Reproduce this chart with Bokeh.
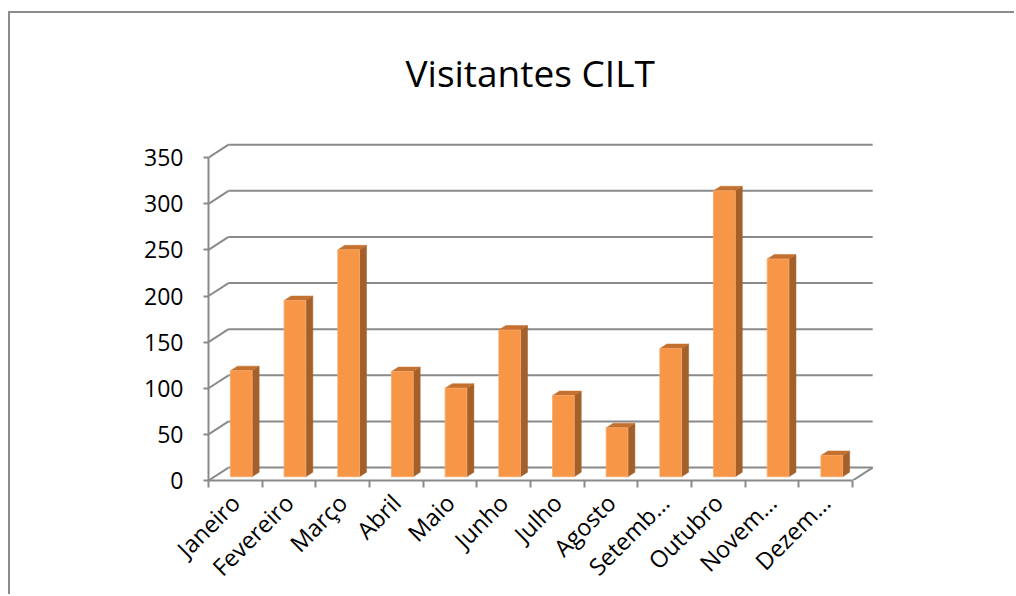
import numpy as np
from bokeh.plotting import figure
from bokeh.models import FixedTicker, Range1d
from bokeh.embed import file_html
from bokeh.resources import INLINE

# ---- data ----
months = ["Janeiro", "Fevereiro", "Março", "Abril", "Maio", "Junho",
          "Julho", "Agosto", "Setemb…", "Outubro", "Novem…", "Dezem…"]
visitors = [115, 191, 246, 114, 96, 159, 88, 53, 139, 310, 236, 23]
y_ticks = [0, 50, 100, 150, 200, 250, 300, 350]
title_text = "Visitantes CILT"

# ---- 3D projection parameters (in data units) ----
DX = 0.3727   # depth shift along x (category units)
DY = 14.05    # depth shift along y (value units)
F0, F1 = 0.29, 0.64   # bar depth (front / back, fraction of floor depth)
BAR_L, BAR_W = 0.30, 0.405

GRID = "#8a8a8a"
FRONT = "#F79646"
SIDE = "#A3602A"
TOP = "#C47130"

n = len(months)

p = figure(width=1006, height=583,
           x_range=Range1d(0, 12.481), y_range=Range1d(0, 390.3),
           output_backend="svg", toolbar_location=None,
           min_border_left=198, min_border_right=138,
           min_border_top=107, min_border_bottom=115,
           margin=(13, 0, 0, 10),
           styles={"box-shadow": "-2px -2px 0 0 #8c8c8c"})
p.grid.visible = False
p.outline_line_color = None
p.background_fill_color = "white"
p.border_fill_color = "white"

# ---- walls / gridlines ----
back_x0 = [DX] * len(y_ticks)
back_x1 = [n + DX] * len(y_ticks)
back_y = [t + DY for t in y_ticks]
p.segment(x0=back_x0, y0=back_y, x1=back_x1, y1=back_y, line_color=GRID, line_width=2)
p.segment(x0=[0] * len(y_ticks), y0=y_ticks, x1=back_x0, y1=back_y, line_color=GRID, line_width=2)
# right floor edge
p.segment(x0=[n], y0=[0], x1=[n + DX], y1=[DY], line_color=GRID, line_width=2)

# ---- bars ----
xl = [i + BAR_L + F0 * DX for i in range(n)]
xr = [x + BAR_W for x in xl]
yb = [F0 * DY] * n
yt = [v + F0 * DY for v in visitors]
d = F1 - F0
side_xs = [[r, r + d * DX, r + d * DX, r] for r in xr]
side_ys = [[b, b + d * DY, t + d * DY, t] for b, t in zip(yb, yt)]
top_xs = [[l, r, r + d * DX, l + d * DX] for l, r in zip(xl, xr)]
top_ys = [[t, t, t + d * DY, t + d * DY] for t in yt]
p.patches(side_xs, side_ys, fill_color=SIDE, line_color=SIDE, line_width=0.5)
p.patches(top_xs, top_ys, fill_color=TOP, line_color=TOP, line_width=0.5)
p.quad(left=xl, right=xr, bottom=yb, top=yt, fill_color=FRONT, line_color="#F9A86C", line_width=0.8)

# ---- axes ----
yax = p.yaxis[0]
yax.ticker = FixedTicker(ticks=y_ticks, minor_ticks=[])
yax.bounds = (0, max(y_ticks))
yax.axis_line_color = GRID
yax.axis_line_width = 2
yax.major_tick_in = 0
yax.major_tick_out = 5
yax.major_tick_line_color = GRID
yax.major_tick_line_width = 2
yax.minor_tick_out = 0
yax.minor_tick_in = 0
yax.major_label_text_font = "Open Sans"
yax.major_label_text_font_size = "23px"
yax.major_label_text_color = "#000000"
yax.major_label_standoff = 20

centers = [i + 0.5 for i in range(n)]
xax = p.xaxis[0]
xax.ticker = FixedTicker(ticks=centers, minor_ticks=list(range(n + 1)))
xax.major_label_overrides = {c: m for c, m in zip(centers, months)}
xax.bounds = (0, n)
xax.axis_line_color = GRID
xax.axis_line_width = 2
xax.major_tick_in = 0
xax.major_tick_out = 0
xax.minor_tick_in = 0
xax.minor_tick_out = 7
xax.minor_tick_line_color = GRID
xax.minor_tick_line_width = 2
xax.major_label_orientation = np.pi / 4
xax.major_label_text_font = "Open Sans"
xax.major_label_text_font_size = "23.5px"
xax.major_label_text_color = "#000000"
xax.major_label_standoff = 11

# ---- title ----
p.title.text = title_text
p.title.align = "left"
p.title.offset = 197
p.title.text_font = "Open Sans"
p.title.text_font_style = "normal"
p.title.text_font_size = "37px"
p.title.text_color = "#000000"
p.title.standoff = 46
p.title.vertical_align = "bottom"

open("out.html", "w").write(file_html(p, INLINE))
